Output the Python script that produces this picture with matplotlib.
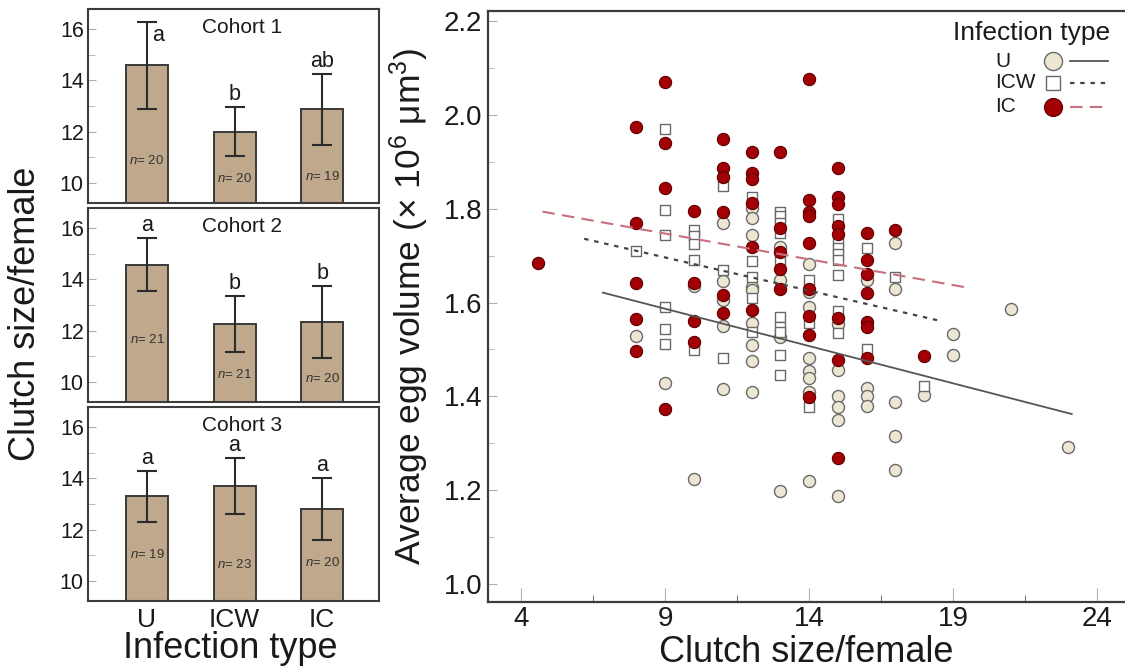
import matplotlib
matplotlib.use("Agg")
import matplotlib.pyplot as plt
import numpy as np
from matplotlib.lines import Line2D
from matplotlib.ticker import MultipleLocator, FixedLocator, FormatStrFormatter

plt.rcParams['font.family'] = ['Liberation Sans', 'DejaVu Sans']
plt.rcParams['mathtext.fontset'] = 'custom'
plt.rcParams['mathtext.rm'] = 'Liberation Sans'
plt.rcParams['mathtext.it'] = 'Liberation Sans:italic'

# --- bar panels (clutch size per cohort) ---
groups = ['U', 'ICW', 'IC']
cohorts = ['Cohort 1', 'Cohort 2', 'Cohort 3']
clutch_mean = [[14.6, 12.0, 12.87], [14.58, 12.25, 12.33], [13.3, 13.72, 12.8]]
clutch_err = [[1.7, 0.95, 1.38], [1.04, 1.1, 1.42], [1.0, 1.1, 1.22]]
sig_letters = [['a', 'b', 'ab'], ['a', 'b', 'b'], ['a', 'a', 'a']]
n_sizes = [[20, 20, 19], [21, 21, 20], [19, 23, 20]]

# --- scatter (egg volume vs clutch size) ---
u_clutch = [8, 9, 10, 10,
            11, 11, 11, 11, 11,
            12, 12, 12, 12, 12, 12, 12, 12, 12,
            13, 13, 13, 13,
            14, 14, 14, 14, 14, 14, 14, 14,
            15, 15, 15, 15, 15, 15,
            16, 16, 16, 16,
            17, 17, 17, 17, 17,
            18, 19, 19, 21, 23]
u_volume = [1.529, 1.428, 1.635, 1.224,
            1.769, 1.645, 1.605, 1.550, 1.416,
            1.802, 1.780, 1.744, 1.634, 1.627, 1.556, 1.510, 1.475, 1.410,
            1.719, 1.648, 1.527, 1.199,
            1.682, 1.622, 1.591, 1.481, 1.455, 1.439, 1.410, 1.220,
            1.554, 1.456, 1.401, 1.378, 1.349, 1.187,
            1.648, 1.417, 1.400, 1.380,
            1.726, 1.630, 1.387, 1.316, 1.243,
            1.403, 1.532, 1.488, 1.586, 1.293]

icw_clutch = [8,
              9, 9, 9, 9, 9, 9,
              10, 10, 10, 10, 10,
              11, 11, 11,
              12, 12, 12, 12, 12,
              13, 13, 13, 13, 13, 13, 13, 13, 13, 13,
              14, 14, 14,
              15, 15, 15, 15, 15, 15, 15, 15,
              16, 16, 17, 18]
icw_volume = [1.711,
              1.971, 1.797, 1.745, 1.591, 1.544, 1.511,
              1.755, 1.742, 1.724, 1.691, 1.499,
              1.849, 1.670, 1.481,
              1.826, 1.689, 1.655, 1.609, 1.538,
              1.794, 1.785, 1.769, 1.748, 1.691, 1.570, 1.549, 1.538, 1.488, 1.446,
              1.648, 1.556, 1.378,
              1.778, 1.731, 1.716, 1.704, 1.690, 1.659, 1.583, 1.535,
              1.716, 1.500, 1.655, 1.422]

ic_clutch = [4.6,
             8, 8, 8, 8, 8,
             9, 9, 9, 9,
             10, 10, 10, 10,
             11, 11, 11, 11, 11, 11,
             12, 12, 12, 12, 12, 12,
             13, 13, 13, 13, 13,
             14, 14, 14, 14, 14, 14, 14, 14, 14,
             15, 15, 15, 15, 15, 15, 15, 15,
             16, 16, 16, 16, 16, 16, 16,
             17, 18]
ic_volume = [1.684,
             1.975, 1.770, 1.642, 1.565, 1.497,
             2.071, 1.940, 1.845, 1.374,
             1.796, 1.642, 1.561, 1.515,
             1.949, 1.888, 1.867, 1.794, 1.616, 1.577,
             1.922, 1.876, 1.863, 1.813, 1.719, 1.584,
             1.922, 1.758, 1.707, 1.671, 1.628,
             2.076, 1.819, 1.794, 1.785, 1.728, 1.630, 1.571, 1.531, 1.398,
             1.888, 1.826, 1.810, 1.763, 1.747, 1.568, 1.478, 1.268,
             1.748, 1.691, 1.662, 1.621, 1.559, 1.549, 1.481,
             1.755, 1.486]

# fitted regression lines (U, ICW, IC)
fit_slope = [-0.0159, -0.01416, -0.01098]
fit_intercept = [1.730, 1.8237, 1.846]
fit_xrange = [(6.84, 23.12), (6.19, 18.55), (4.74, 19.5)]

# --- layout helpers (not data) ---
n_label_y = [[10.87, 10.17, 10.25], [11.65, 10.27, 10.14], [11.03, 10.64, 10.7]]
text_col = '#1a1a1a'
spine_col = '#3c3c3c'
tick_col = '#b0b0b0'

fig = plt.figure(figsize=(11.25, 6.71), dpi=100)

bar_bottoms = [0.6975, 0.4009, 0.1043]
xpos = np.arange(len(groups))
for i, bottom in enumerate(bar_bottoms):
    ax = fig.add_axes([0.0782, bottom, 0.2587, 0.2891])
    ax.bar(xpos, clutch_mean[i], width=0.48, color='#BFA88B',
           edgecolor='#3a3a3a', linewidth=1.4, zorder=2)
    ax.errorbar(xpos, clutch_mean[i], yerr=clutch_err[i], fmt='none',
                ecolor='#2b2b2b', elinewidth=1.5, capsize=7.5, capthick=1.5, zorder=3)
    ax.set_xlim(-0.674, 2.65)
    ax.set_ylim(9.2, 16.8)
    ax.yaxis.set_major_locator(MultipleLocator(2))
    ax.yaxis.set_minor_locator(MultipleLocator(1))
    ax.tick_params(axis='y', which='both', direction='in', color=tick_col,
                   labelsize=15.5, labelcolor=text_col, pad=3)
    ax.tick_params(axis='y', which='major', length=6)
    ax.tick_params(axis='y', which='minor', length=5)
    ax.set_xticks(xpos)
    if i == 2:
        ax.set_xticklabels(groups, fontsize=19, color=text_col)
        ax.tick_params(axis='x', length=0, pad=5)
    else:
        ax.set_xticklabels([])
        ax.tick_params(axis='x', length=0)
    for sp in ax.spines.values():
        sp.set_color(spine_col)
        sp.set_linewidth(1.5)

    ax.text(0.53, 0.905, cohorts[i], transform=ax.transAxes, ha='center',
            va='center', fontsize=15, color=text_col)
    for j in range(len(groups)):
        top = clutch_mean[i][j] + clutch_err[i][j]
        if i == 0 and j == 0:
            ax.text(xpos[j] + 0.06, top - 0.12, sig_letters[i][j], ha='left',
                    va='top', fontsize=15.5, color=text_col)
        else:
            ax.text(xpos[j], top + 0.08, sig_letters[i][j], ha='center',
                    va='bottom', fontsize=15.5, color=text_col)
        ax.text(xpos[j], n_label_y[i][j], r'$n$= %d' % n_sizes[i][j],
                ha='center', va='center', fontsize=9.5, color='#333333')

fig.text(26 / 1125, 1 - 314 / 671, 'Clutch size/female', rotation=90,
         ha='center', va='center', fontsize=26, color=text_col)
fig.text(230 / 1125, 1 - 648 / 671, 'Infection type', ha='center',
         va='center', fontsize=26, color=text_col)

# --- scatter panel ---
ax = fig.add_axes([0.4338, 0.1028, 0.5662, 0.8808])
u_face, u_edge = '#ECE6D3', '#6a6a6a'
icw_edge = '#6a6a6a'
ic_face, ic_edge = '#A30005', '#5c0000'

ax.scatter(u_clutch, u_volume, s=75, marker='o', facecolor=u_face,
           edgecolor=u_edge, linewidth=1.0, zorder=3)
ax.scatter(icw_clutch, icw_volume, s=48, marker='s', facecolor='white',
           edgecolor=icw_edge, linewidth=1.0, zorder=3)
ax.scatter(ic_clutch, ic_volume, s=78, marker='o', facecolor=ic_face,
           edgecolor=ic_edge, linewidth=0.8, zorder=4)

line_styles = [dict(color='#555555', lw=1.3, ls='-'),
               dict(color='#444444', lw=1.6, dashes=(2.0, 2.6)),
               dict(color='#C9707F', lw=1.5, dashes=(6.0, 3.5))]
for k in range(3):
    xs = np.array(fit_xrange[k])
    ax.plot(xs, fit_intercept[k] + fit_slope[k] * xs, zorder=5, **line_styles[k])

ax.set_xlim(2.85, 24.97)
ax.set_ylim(0.9616, 2.2217)
ax.xaxis.set_major_locator(FixedLocator([4, 9, 14, 19, 24]))
ax.xaxis.set_minor_locator(FixedLocator([6.5, 11.5, 16.5, 21.5]))
ax.yaxis.set_major_locator(MultipleLocator(0.2))
ax.yaxis.set_minor_locator(MultipleLocator(0.1))
ax.yaxis.set_major_formatter(FormatStrFormatter('%.1f'))
ax.tick_params(axis='both', which='both', direction='in', labelsize=20,
               labelcolor=text_col)
ax.tick_params(axis='x', which='major', length=10, color=tick_col, pad=3)
ax.tick_params(axis='x', which='minor', length=5, color='#555555')
ax.tick_params(axis='y', which='major', length=6.5, color=tick_col, pad=4)
ax.tick_params(axis='y', which='minor', length=4.3, color=tick_col)
ax.spines['right'].set_visible(False)
for name in ('left', 'bottom', 'top'):
    ax.spines[name].set_color(spine_col)
    ax.spines[name].set_linewidth(1.6)

ax.set_xlabel('Clutch size/female', fontsize=26, color=text_col, labelpad=2)
ax.set_ylabel('Average egg volume (× 10$^{6}$ μm$^{3}$)', fontsize=25.5,
              color=text_col, labelpad=9)

# legend built by hand: labels left-aligned, marker then line sample
key_markers = [dict(marker='o', ms=13, mfc=u_face, mec=u_edge, mew=1.0),
               dict(marker='s', ms=10, mfc='white', mec=icw_edge, mew=1.0),
               dict(marker='o', ms=13, mfc=ic_face, mec=ic_edge, mew=0.8)]
ax.text(0.9765, 0.9628, 'Infection type', transform=ax.transAxes, ha='right',
        va='center', fontsize=19, color=text_col)
key_rows = [0.9154, 0.8782, 0.8376]
for k, row in enumerate(key_rows):
    ax.text(0.7959, row, groups[k], transform=ax.transAxes, ha='left',
            va='center', fontsize=15, color=text_col)
    ax.add_line(Line2D([0.887], [row], ls='none', transform=ax.transAxes,
                       clip_on=False, zorder=6, **key_markers[k]))
    ax.add_line(Line2D([0.9137, 0.9733], [row, row], transform=ax.transAxes,
                       clip_on=False, zorder=6, **line_styles[k]))

fig.savefig('out.png', dpi=100)
